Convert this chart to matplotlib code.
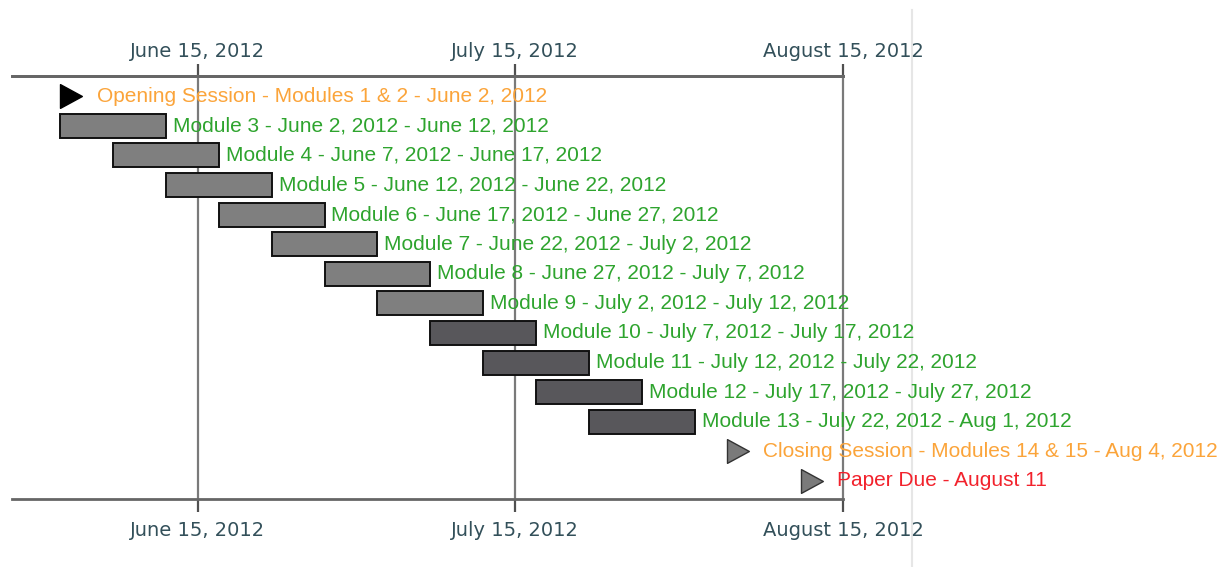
import matplotlib
matplotlib.use("Agg")
import matplotlib.pyplot as plt
import matplotlib.dates as mdates
from matplotlib.path import Path
from matplotlib.lines import Line2D
import datetime as dt

# ---------------- data ----------------
row_labels = [
    "Opening Session - Modules 1 & 2 - June 2, 2012",
    "Module 3 - June 2, 2012 - June 12, 2012",
    "Module 4 - June 7, 2012 - June 17, 2012",
    "Module 5 - June 12, 2012 - June 22, 2012",
    "Module 6 - June 17, 2012 - June 27, 2012",
    "Module 7 - June 22, 2012 - July 2, 2012",
    "Module 8 - June 27, 2012 - July 7, 2012",
    "Module 9 - July 2, 2012 - July 12, 2012",
    "Module 10 - July 7, 2012 - July 17, 2012",
    "Module 11 - July 12, 2012 - July 22, 2012",
    "Module 12 - July 17, 2012 - July 27, 2012",
    "Module 13 - July 22, 2012 - Aug 1, 2012",
    "Closing Session - Modules 14 & 15 - Aug 4, 2012",
    "Paper Due - August 11",
]
row_starts = [
    "2012-06-02", "2012-06-02", "2012-06-07", "2012-06-12", "2012-06-17",
    "2012-06-22", "2012-06-27", "2012-07-02", "2012-07-07", "2012-07-12",
    "2012-07-17", "2012-07-22", "2012-08-04", "2012-08-11",
]
row_ends = [
    None, "2012-06-12", "2012-06-17", "2012-06-22", "2012-06-27",
    "2012-07-02", "2012-07-07", "2012-07-12", "2012-07-17", "2012-07-22",
    "2012-07-27", "2012-08-01", None, None,
]
tick_dates = ["2012-06-15", "2012-07-15", "2012-08-15"]
tick_labels = ["June 15, 2012", "July 15, 2012", "August 15, 2012"]

# ---------------- styles ----------------
label_colors = ["#fba43a"] + ["#2ea42e"] * 11 + ["#fba43a", "#f2222c"]
bar_colors = [None] + ["#7f7f7f"] * 7 + ["#58575b"] * 4 + [None, None]
marker_colors = ["#000000"] + [None] * 11 + ["#7a7a7a", "#7a7a7a"]


def d(s):
    return mdates.date2num(dt.datetime.strptime(s, "%Y-%m-%d"))


W, H = 1223, 567
fig = plt.figure(figsize=(W / 100, H / 100), dpi=100)
ax_left, ax_right, ax_top, ax_bot = 12, 843, 76, 499
ax = fig.add_axes([ax_left / W, 1 - ax_bot / H, (ax_right - ax_left) / W, (ax_bot - ax_top) / H])

x_right = d(tick_dates[-1])
px_per_day = (ax_right - 515) / (d(tick_dates[2]) - d(tick_dates[1]))
x_left = x_right - (ax_right - ax_left) / px_per_day
ax.set_xlim(x_left, x_right)
ax.set_ylim(13.61, -0.68)

tri = Path([(0, -1.0), (1.84, 0), (0, 1.0), (0, -1.0)],
           [Path.MOVETO, Path.LINETO, Path.LINETO, Path.CLOSEPOLY])

FS = 15
for i, (lab, s, e) in enumerate(zip(row_labels, row_starts, row_ends)):
    x0 = d(s)
    if e is not None:
        x1 = d(e)
        ax.barh(i, x1 - x0, left=x0, height=0.81, color=bar_colors[i],
                edgecolor="#111111", linewidth=1.4, zorder=3)
        ax.annotate(lab, (x1, i), xytext=(5, 0), textcoords="offset points",
                    va="center", ha="left", fontsize=FS, color=label_colors[i],
                    family="Liberation Sans", zorder=5, annotation_clip=False)
    else:
        ax.plot([x0], [i], marker=tri, markersize=31.5, color=marker_colors[i],
                markeredgecolor="#333333" if i else "#000000", markeredgewidth=1,
                linestyle="none", zorder=4, clip_on=False)
        ax.annotate(lab, (x0, i), xytext=(26.5, 0), textcoords="offset points",
                    va="center", ha="left", fontsize=FS, color=label_colors[i],
                    family="Liberation Sans", zorder=5, annotation_clip=False)

ticks = [d(t) for t in tick_dates]
ax.set_yticks([])
ax.set_xticks(ticks, tick_labels)
ax.tick_params(axis="x", direction="out", length=9, width=1.6, color="#505050",
               pad=7, labelsize=14, labelcolor="#33505a")
ax.grid(axis="x", color="#7a7a7a", linewidth=1.6, zorder=1)
for gl in ax.get_xgridlines():
    gl.set_clip_on(False)
ax.set_axisbelow(True)

sec = ax.secondary_xaxis("top")
sec.set_xticks(ticks, tick_labels)
sec.tick_params(axis="x", direction="out", length=9, width=1.6, color="#505050",
                pad=1.5, labelsize=14, labelcolor="#33505a")
sec.spines["top"].set_color("#666666")
sec.spines["top"].set_linewidth(2)

for side in ["left", "right"]:
    ax.spines[side].set_visible(False)
for side in ["top", "bottom"]:
    ax.spines[side].set_color("#666666")
    ax.spines[side].set_linewidth(2)

fig.add_artist(Line2D([912 / W, 912 / W], [0, 1 - 10 / H], transform=fig.transFigure,
                      color="#e6e6e6", linewidth=1.5, zorder=-5))

fig.savefig("out.png", dpi=100)
